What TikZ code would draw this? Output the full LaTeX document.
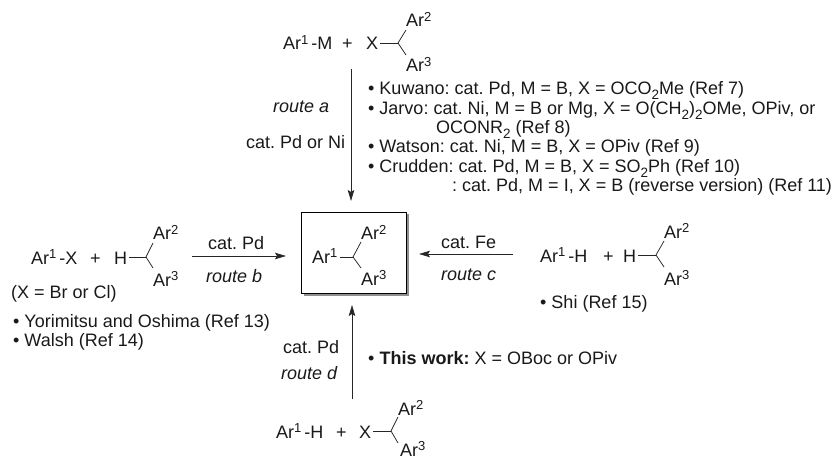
\documentclass[tikz,border=0pt]{standalone}
\usepackage{fontspec}
\setmainfont{Liberation Sans}
\usetikzlibrary{arrows.meta,shadows}
\newcommand{\Sp}[1]{\raisebox{0.3em}{\fontsize{13}{13}\selectfont #1}}
\newcommand{\Sb}[1]{\smash{\raisebox{-0.24em}{\fontsize{13.5}{13.5}\selectfont #1}}}
\newcommand{\Ar}[1]{Ar\Sp{#1}}
\tikzset{
  txt/.style={anchor=base west,inner sep=0pt,font=\fontsize{18}{20}\selectfont\frenchspacing,text=black!90},
  rte/.style={txt,font=\fontsize{18}{20}\selectfont\itshape},
  bond/.style={line width=0.75pt,black!85},
  rxn/.style={line width=0.8pt,black!85,-{Stealth[length=11pt,width=6.5pt,inset=2pt]}},
  prodbox/.style={draw=black,line width=0.8pt,fill=white,minimum width=105pt,minimum height=81pt,inner sep=0pt,
    drop shadow={shadow xshift=2.5pt,shadow yshift=-2.5pt,fill=black!55,opacity=0.8}},
}
\begin{document}
\begin{tikzpicture}[x=1pt,y=-1pt]
\useasboundingbox (0,0) rectangle (835,457);
% top reactants
\node[txt] (a1) at (283,50) {\Ar{1}\,-M};
\node[txt] (aplus) at (342,50) {+};
\node[txt] (ax) at (366,50) {X};
\node[txt] (aar2) at (406,27) {\Ar{2}};
\node[txt] (aar3) at (406,72) {\Ar{3}};
\coordinate (ac) at (398,43);
\draw[bond] (ax.east |- ac) ++(2,0) -- (ac);
\draw[bond] (ac) -- (406,30);
\draw[bond] (ac) -- (406,55);
% route a
\coordinate (as) at (351,69);
\coordinate (ae) at (351,201);
\draw[rxn] (as) -- (ae);
\node[rte] (ra) at (273,113) {route a};
\node[txt] (ca) at (246,149) {cat. Pd or Ni};
% refs a
\node[txt] (r1) at (368,95) {• Kuwano: cat. Pd, M = B, X = OCO\Sb{2}Me (Ref 7)};
\node[txt] (r2) at (368,115) {• Jarvo: cat. Ni, M = B or Mg, X = O(CH\Sb{2})\Sb{2}OMe, OPiv, or};
\node[txt] (r3) at (436,134) {OCONR\Sb{2} (Ref 8)};
\node[txt] (r4) at (368,153) {• Watson: cat. Ni, M = B, X = OPiv (Ref 9)};
\node[txt] (r5) at (368,173) {• Crudden: cat. Pd, M = B, X = SO\Sb{2}Ph (Ref 10)};
\node[txt] (r6) at (452,192) {: cat. Pd, M = I, X = B (reverse version) (Ref 11)};
% left reactants
\node[txt] (b1) at (31,264) {\Ar{1}\,-X};
\node[txt] (bplus) at (90,264) {+};
\node[txt] (bh) at (114,264) {H};
\node[txt] (bar2) at (153,240) {\Ar{2}};
\node[txt] (bar3) at (153,286) {\Ar{3}};
\coordinate (bc) at (146,257);
\draw[bond] (bh.east |- bc) ++(2,0) -- (bc);
\draw[bond] (bc) -- (153,243);
\draw[bond] (bc) -- (153,268);
\node[txt] (bn) at (11,298) {(X = Br or Cl)};
\node[txt] (br1) at (13,327) {• Yorimitsu and Oshima (Ref 13)};
\node[txt] (br2) at (13,346) {• Walsh (Ref 14)};
% route b
\coordinate (bs) at (192,256);
\coordinate (be) at (286,256);
\draw[rxn] (bs) -- (be);
\node[txt] (cb) at (208,249) {cat. Pd};
\node[rte] (rb) at (206,282) {route b};
% product
\node[prodbox] (box) at (353.5,252.5) {};
\node[txt] (p1) at (312,263) {\Ar{1}};
\node[txt] (par2) at (361,240) {\Ar{2}};
\node[txt] (par3) at (361,285) {\Ar{3}};
\coordinate (pc) at (353,257);
\draw[bond] (p1.east |- pc) ++(2,0) -- (pc);
\draw[bond] (pc) -- (361,242);
\draw[bond] (pc) -- (361,268);
% route c
\coordinate (cs) at (513,254);
\coordinate (ce) at (419,254);
\draw[rxn] (cs) -- (ce);
\node[txt] (cc) at (441,248) {cat. Fe};
\node[rte] (rc) at (441,280) {route c};
% right reactants
\node[txt] (c1) at (540,262) {\Ar{1}\,-H};
\node[txt] (cplus) at (603,262) {+};
\node[txt] (ch) at (623,262) {H};
\node[txt] (car2) at (664,238) {\Ar{2}};
\node[txt] (car3) at (664,285) {\Ar{3}};
\coordinate (cc0) at (656,255);
\draw[bond] (ch.east |- cc0) ++(2,0) -- (cc0);
\draw[bond] (cc0) -- (664,241);
\draw[bond] (cc0) -- (664,267);
\node[txt] (cr1) at (540,308) {• Shi (Ref 15)};
% route d
\coordinate (ds) at (352,399);
\coordinate (de) at (352,305);
\draw[rxn] (ds) -- (de);
\node[txt] (cd) at (283,353) {cat. Pd};
\node[rte] (rd) at (281,379) {route d};
\node[txt] (dr1) at (368,364) {• \textbf{This work:} X = OBoc or OPiv};
% bottom reactants
\node[txt] (d1) at (276,438) {\Ar{1}\,-H};
\node[txt] (dplus) at (336,438) {+};
\node[txt] (dx) at (359,438) {X};
\node[txt] (dar2) at (398,415) {\Ar{2}};
\node[txt] (dar3) at (400,456) {\Ar{3}};
\coordinate (dc) at (391,431);
\draw[bond] (dx.east |- dc) ++(2,0) -- (dc);
\draw[bond] (dc) -- (398,417);
\draw[bond] (dc) -- (398,443);
\end{tikzpicture}
\end{document}
